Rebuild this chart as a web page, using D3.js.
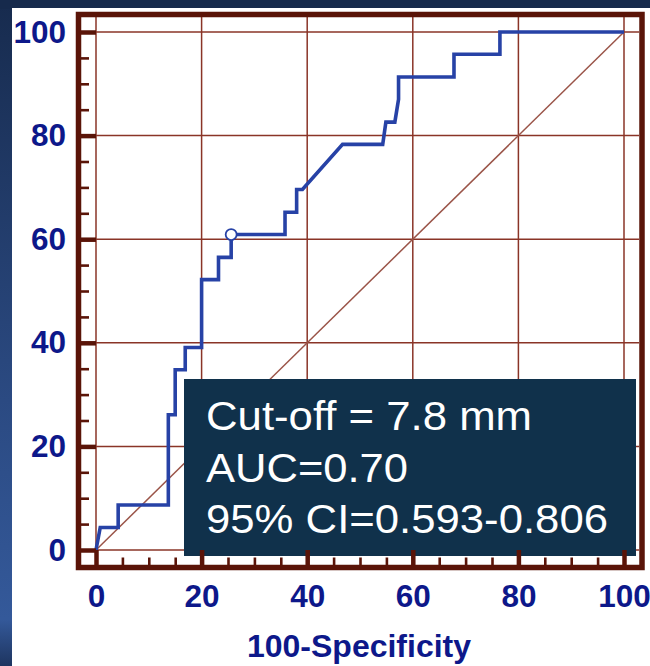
<!DOCTYPE html>
<html>
<head>
<meta charset="utf-8">
<script src="https://cdn.jsdelivr.net/npm/d3@7"></script>
<style>
  html, body { margin: 0; padding: 0; background: #ffffff; }
  svg { display: block; }
</style>
</head>
<body>
<svg id="chart" width="650" height="666"></svg>
<script>
// ---- data ----
const majorTicks = [0, 20, 40, 60, 80, 100];
const minorTicks = [5, 10, 15, 25, 30, 35, 45, 50, 55, 65, 70, 75, 85, 90, 95];
const fpr = [0, 0.8, 4.2, 4.2, 13.7, 13.7, 15.0, 15.0, 16.9, 16.9, 20.0, 20.0, 23.2, 23.2, 25.6, 25.6,
             35.8, 35.8, 38.0, 38.0, 39.1, 46.7, 54.3, 54.9, 56.6, 57.3, 57.3, 67.8, 67.8, 76.5, 76.5, 100];
const tpr = [0, 4.35, 4.35, 8.7, 8.7, 26.1, 26.1, 34.8, 34.8, 39.1, 39.1, 52.2, 52.2, 56.5, 56.5, 60.9,
             60.9, 65.2, 65.2, 69.6, 69.6, 78.3, 78.3, 82.6, 82.6, 87.0, 91.3, 91.3, 95.7, 95.7, 100, 100];
const cutoffPoint = [25.6, 60.9];
const diagonal = [[0, 0], [100, 100]];
const boxLines = ["Cut-off = 7.8 mm", "AUC=0.70", "95% CI=0.593-0.806"];
const xTitle = "100-Specificity";

// ---- layout ----
const svg = d3.select("#chart");
const x = d3.scaleLinear().domain([0, 100]).range([96, 624]);
const y = d3.scaleLinear().domain([0, 100]).range([550, 32]);
const FONT = "'Liberation Sans', Arial, sans-serif";
const frameCol = "#5a1408";
const gridCol = "#8a3427";
const labelCol = "#0d188a";

// background
const defs = svg.append("defs");
const grad = defs.append("linearGradient").attr("id", "sideGrad")
  .attr("x1", 0).attr("y1", 0).attr("x2", 0).attr("y2", 1);
grad.append("stop").attr("offset", "0%").attr("stop-color", "#172b4e");
grad.append("stop").attr("offset", "60%").attr("stop-color", "#2b4a82");
grad.append("stop").attr("offset", "93%").attr("stop-color", "#34599a");
grad.append("stop").attr("offset", "100%").attr("stop-color", "#1e3560");
svg.append("rect").attr("x", 0).attr("y", 0).attr("width", 650).attr("height", 666).attr("fill", "url(#sideGrad)");
svg.append("rect").attr("x", 0).attr("y", 0).attr("width", 650).attr("height", 9).attr("fill", "#162a4c");
svg.append("rect").attr("x", 12).attr("y", 8).attr("width", 638).attr("height", 658).attr("fill", "#ffffff");

// grid
const grid = svg.append("g");
grid.selectAll("line.v").data(majorTicks).join("line")
  .attr("x1", d => x(d)).attr("x2", d => x(d))
  .attr("y1", 17).attr("y2", 565)
  .attr("stroke", gridCol).attr("stroke-width", 1.5);
grid.selectAll("line.h").data(majorTicks).join("line")
  .attr("y1", d => y(d)).attr("y2", d => y(d))
  .attr("x1", 81).attr("x2", 639)
  .attr("stroke", gridCol).attr("stroke-width", 1.5);

// diagonal reference
svg.append("path").datum(diagonal)
  .attr("d", d3.line().x(d => x(d[0])).y(d => y(d[1])))
  .attr("fill", "none").attr("stroke", "#9a5448").attr("stroke-width", 1.5);

// ROC curve
const pts = fpr.map((f, i) => [f, tpr[i]]);
svg.append("path").datum(pts)
  .attr("d", d3.line().x(d => x(d[0])).y(d => y(d[1])))
  .attr("fill", "none").attr("stroke", "#2742a6").attr("stroke-width", 3.6)
  .attr("stroke-linejoin", "miter");

svg.append("circle")
  .attr("cx", x(cutoffPoint[0])).attr("cy", y(cutoffPoint[1])).attr("r", 5.5)
  .attr("fill", "#ffffff").attr("stroke", "#2742a6").attr("stroke-width", 1.8);

// annotation box
svg.append("rect").attr("x", 184).attr("y", 379).attr("width", 452).attr("height", 177).attr("fill", "#10314b");
const boxLens = [326, 202, 402];
svg.append("g").selectAll("text").data(boxLines).join("text")
  .attr("x", 206).attr("y", (d, i) => 430 + i * 51.5)
  .attr("font-family", FONT).attr("font-size", 41).attr("fill", "#ffffff")
  .attr("textLength", (d, i) => boxLens[i]).attr("lengthAdjust", "spacingAndGlyphs")
  .text(d => d);

// frame
svg.append("rect").attr("x", 78.5).attr("y", 14.5).attr("width", 563.5).attr("height", 553)
  .attr("fill", "none").attr("stroke", frameCol).attr("stroke-width", 5.5);

// ticks: bottom (pointing up into plot)
function styleTicks(g, w) {
  g.select(".domain").remove();
  g.selectAll(".tick line").attr("stroke", frameCol).attr("stroke-width", w);
  g.selectAll(".tick text").remove();
}
svg.append("g").attr("transform", "translate(0,565)")
  .call(d3.axisTop(x).tickValues(majorTicks).tickSize(15).tickFormat(""))
  .call(g => styleTicks(g, 4.5));
svg.append("g").attr("transform", "translate(0,565)")
  .call(d3.axisTop(x).tickValues(minorTicks).tickSize(7.5).tickFormat(""))
  .call(g => styleTicks(g, 2.6));
// ticks: left (pointing right into plot)
svg.append("g").attr("transform", "translate(81,0)")
  .call(d3.axisRight(y).tickValues(majorTicks).tickSize(15).tickFormat(""))
  .call(g => styleTicks(g, 4.5));
svg.append("g").attr("transform", "translate(81,0)")
  .call(d3.axisRight(y).tickValues(minorTicks).tickSize(8).tickFormat(""))
  .call(g => styleTicks(g, 2.6));

// tick labels
const xLab = svg.append("g").attr("transform", "translate(0,565)")
  .call(d3.axisBottom(x).tickValues(majorTicks).tickSize(0).tickPadding(20).tickFormat(d3.format("d")));
xLab.select(".domain").remove();
xLab.selectAll("text").attr("font-family", FONT).attr("font-size", 31.5)
  .attr("font-weight", "bold").attr("fill", labelCol);

const yLab = svg.append("g").attr("transform", "translate(81,0)")
  .call(d3.axisLeft(y).tickValues(majorTicks).tickSize(0).tickPadding(15).tickFormat(d3.format("d")));
yLab.select(".domain").remove();
yLab.selectAll("text").attr("font-family", FONT).attr("font-size", 31.5)
  .attr("font-weight", "bold").attr("fill", labelCol);

// axis title
svg.append("text").attr("x", 359).attr("y", 657).attr("text-anchor", "middle")
  .attr("font-family", FONT).attr("font-size", 32).attr("font-weight", "bold").attr("fill", labelCol)
  .text(xTitle);
</script>
</body>
</html>
